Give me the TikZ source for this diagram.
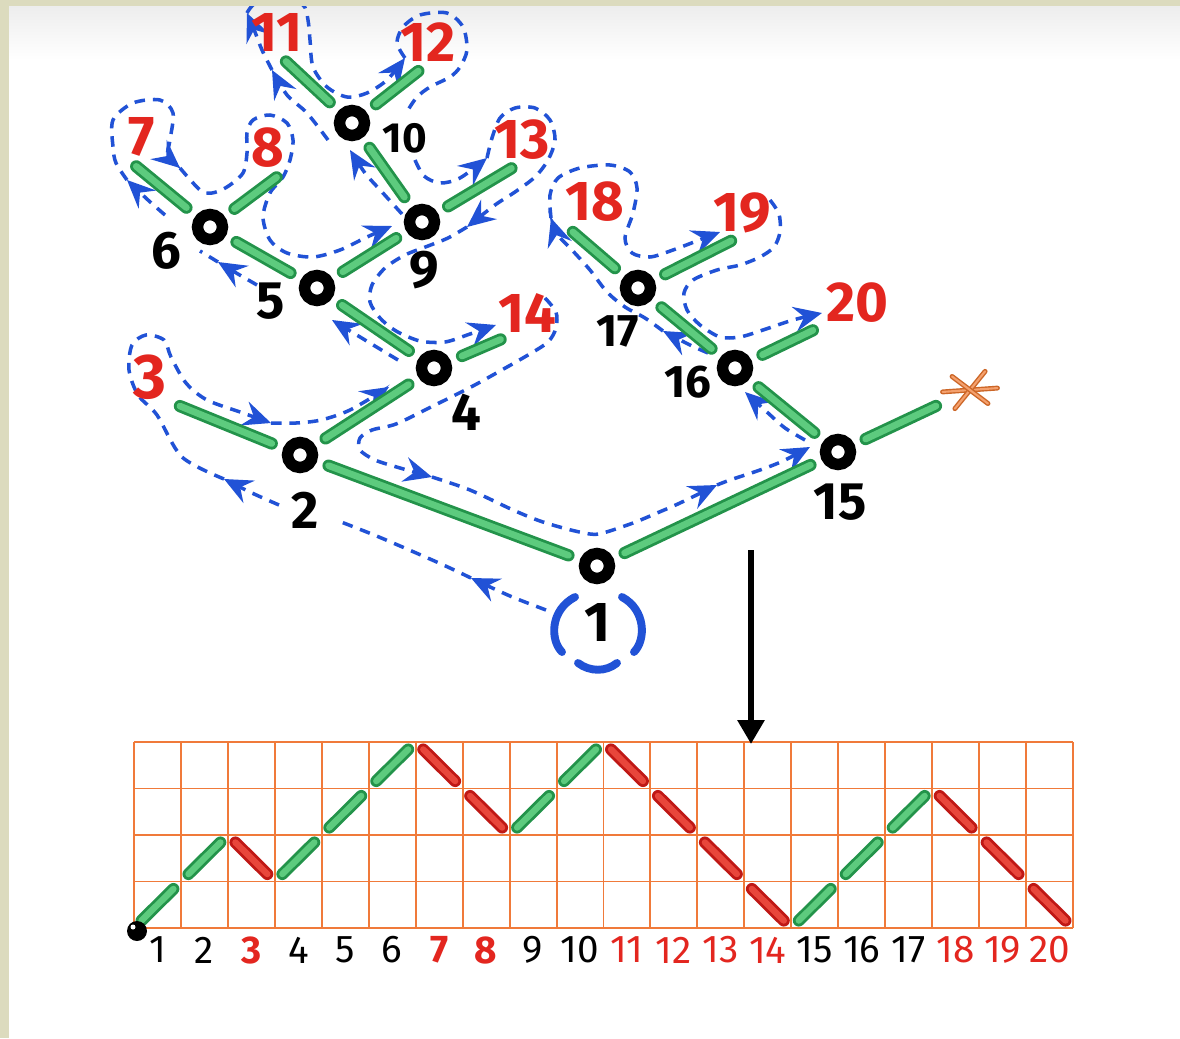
\documentclass[tikz,border=0pt]{standalone}
\usepackage{fontspec}
\setmainfont{Fira Sans}
\usetikzlibrary{arrows.meta}

\definecolor{framebeige}{HTML}{DCDBBE}
\definecolor{tourblue}{HTML}{2152D6}
\definecolor{leafred}{HTML}{E3261F}
\definecolor{gridorange}{HTML}{F07A3A}
\definecolor{greendk}{HTML}{23934A}
\definecolor{greenlt}{HTML}{5DCB7E}
\definecolor{reddk}{HTML}{BF1815}
\definecolor{redlt}{HTML}{E8463B}
\definecolor{starorange}{HTML}{F0782E}

\begin{document}
\begin{tikzpicture}[x=0.02cm, y=-0.02cm,
  vertex/.style={circle, draw=black, line width=6.5pt, minimum size=0.5cm, inner sep=0pt},
  leaf/.style={text=leafred, font=\fontsize{32}{34}\selectfont\bfseries, inner sep=1pt},
  num/.style={text=black, font=\fontsize{30}{32}\selectfont\bfseries, inner sep=1pt},
  branch/.style={draw=greendk, double=greenlt, double distance=3.8pt, line width=1.6pt,
    line cap=round, shorten <=7pt, shorten >=7pt},
  upstick/.style={draw=greendk, double=greenlt, double distance=3.6pt, line width=1.6pt,
    line cap=round, shorten <=6pt, shorten >=6pt},
  downstick/.style={draw=reddk, double=redlt, double distance=3.6pt, line width=1.6pt,
    line cap=round, shorten <=6pt, shorten >=6pt},
  gridline/.style={gridorange, line width=1.1pt},
  tour/.style={tourblue, line width=2pt, dash pattern=on 6pt off 4.5pt},
  tourtip/.style={tour, -{Stealth[length=9mm/1.6, width=5mm, inset=2mm]}},
  paren/.style={tourblue, line width=4.5pt, line cap=round},
  starstroke/.style={draw=starorange!85!black, double=starorange!70, double distance=1.2pt,
    line width=0.8pt, line cap=round},
  pathlab/.style={inner sep=1pt},
]
\useasboundingbox (0,0) rectangle (1180,1038);
\fill[white] (0,0) rectangle (1180,1038);
\shade[top color=black!7, bottom color=white] (0,6) rectangle (1180,60);

% Grid
\foreach \i in {0,...,20}
  \draw[gridline] ({134+46.95*\i},742) -- ({134+46.95*\i},928);
\foreach \j in {0,...,4}
  \draw[gridline] (134,{928-46.5*\j}) -- (1073,{928-46.5*\j});

% Path: up for an inner vertex, down for a leaf
\foreach \i/\a/\b/\s in {1/0/1/upstick, 2/1/2/upstick, 3/2/1/downstick, 4/1/2/upstick,
    5/2/3/upstick, 6/3/4/upstick, 7/4/3/downstick, 8/3/2/downstick, 9/2/3/upstick,
    10/3/4/upstick, 11/4/3/downstick, 12/3/2/downstick, 13/2/1/downstick,
    14/1/0/downstick, 15/0/1/upstick, 16/1/2/upstick, 17/2/3/upstick,
    18/3/2/downstick, 19/2/1/downstick, 20/1/0/downstick}
  \draw[\s] ({134+46.95*(\i-1)},{928-46.5*\a}) -- ({134+46.95*\i},{928-46.5*\b});
\fill (137,931) circle (10);
\fill[white] (133,927) circle (2.5);

% Step numbers
\foreach \i/\c/\w in {1/black/\mdseries, 2/black/\mdseries, 3/leafred/\bfseries,
    4/black/\mdseries, 5/black/\mdseries, 6/black/\mdseries, 7/leafred/\bfseries,
    8/leafred/\bfseries, 9/black/\mdseries, 10/black/\mdseries, 11/leafred/\mdseries,
    12/leafred/\mdseries, 13/leafred/\mdseries, 14/leafred/\mdseries, 15/black/\mdseries,
    16/black/\mdseries, 17/black/\mdseries, 18/leafred/\mdseries, 19/leafred/\mdseries,
    20/leafred/\mdseries}
  \node[pathlab, text=\c, font={\fontsize{22}{24}\selectfont\w}] (s\i) at ({134+46.95*(\i-0.5)},950) {\i};

% Arrow down to the grid
\coordinate (arrtop) at (751,550);
\coordinate (arrbot) at (751,744);
\draw[line width=3.8pt, -{Triangle[width=0.52cm, length=0.48cm]}] (arrtop) -- (arrbot);

% Tour around the tree
\draw[tourtip] plot[smooth] coordinates {(546,610) (510,596) (471,578)};
\draw[tour] plot[smooth] coordinates {(471,578) (439,563) (379,537) (336,520)};
\draw[tourtip] plot[smooth] coordinates {(279,505) (252,493) (224,479)};
\draw[tourtip] plot[smooth] coordinates {(224,479) (182,457) (157,415) (138,395) (129,370)
  (132,345) (146,335) (164,340) (171,357) (186,383) (207,400) (243,413) (271,423)};
\draw[tourtip] plot[smooth] coordinates {(271,423) (296,423) (321,420) (350,410) (389,387)};
\draw[tourtip] plot[smooth] coordinates {(398,360) (365,340) (332,320)};
\draw[tourtip] plot[smooth] coordinates {(257,285) (238,274) (218,262)};
\draw[tour] (218,262) -- (200,251);
\draw[tourtip] plot[smooth] coordinates {(165,215) (148,200) (127,180)};
\draw[tourtip] plot[smooth] coordinates {(127,180) (116,163) (113,147) (113,120) (133,103)
  (160,100) (173,113) (170,140) (168,155) (180,168)};
\draw[tourtip] plot[smooth] coordinates {(180,168) (200,190) (212,193) (227,187) (243,173)
  (247,153) (247,133) (253,120) (270,115) (287,123) (293,140) (290,160) (283,177)
  (270,193) (263,217) (270,240) (287,253) (313,257) (340,250) (367,237) (392,226)};
\draw[tourtip] plot[smooth] coordinates {(402,214) (382,192) (365,173) (350,150)};
\draw[tourtip] plot[smooth] coordinates {(328,140) (307,113) (287,95) (272,70)};
\draw[tourtip] plot[smooth] coordinates {(272,70) (262,50) (255,32) (247,13)};
\draw[tourtip] plot[smooth] coordinates {(247,13) (256,3) (282,0) (303,5) (308,20) (310,40)
  (313,67) (327,87) (347,97) (367,93) (387,80) (405,58)};
\draw[tour] plot[smooth] coordinates {(405,58) (397,43) (403,27) (420,15) (447,13) (463,27)
  (467,50) (460,67) (450,77) (430,87) (417,97) (408,110)};
\draw[tourtip] plot[smooth] coordinates {(415,160) (424,176) (440,183) (460,178) (487,158)};
\draw[tourtip] plot[smooth] coordinates {(487,158) (492,138) (500,118) (515,108) (535,108)
  (550,120) (555,140) (548,160) (535,177) (515,192) (495,205) (467,227)};
\draw[tourtip] plot[smooth] coordinates {(467,227) (448,238) (428,246) (405,255) (385,268)
  (372,285) (370,302) (380,318) (396,331) (420,341) (445,342) (470,334) (496,325)};
\draw[tourtip] plot[smooth] coordinates {(545,298) (556,312) (556,328) (548,342) (528,355)
  (500,371) (471,387) (429,408) (396,424) (372,430) (360,438) (360,450) (375,460)
  (400,468) (432,477)};
\draw[tourtip] plot[smooth] coordinates {(432,477) (470,490) (513,510) (540,521) (567,529)
  (590,534) (603,533) (633,523) (657,513) (680,503) (717,485)};
\draw[tourtip] plot[smooth] coordinates {(717,485) (730,480) (760,470) (783,461) (810,447)};
\draw[tourtip] plot[smooth] coordinates {(805,440) (785,428) (768,413) (745,392)};
\draw[tourtip] plot[smooth] coordinates {(708,353) (690,345) (663,331)};
\draw[tourtip] plot[smooth] coordinates {(663,331) (645,318) (625,307) (607,292) (590,270)
  (572,250) (558,235) (551,218)};
\draw[tourtip] plot[smooth] coordinates {(551,218) (550,195) (558,178) (580,168) (610,165)
  (630,172) (637,188) (633,213) (625,238) (632,253) (650,257) (673,250) (707,237) (720,232)};
\draw[tourtip] plot[smooth] coordinates {(770,200) (779,214) (780,232) (774,247) (760,257)
  (740,265) (717,270) (693,280) (684,293) (687,310) (700,325) (720,337) (740,337)
  (763,330) (793,320) (822,313)};

% Inner vertices
\node[vertex] (n1) at (597,566) {};
\node[vertex] (n2) at (300,455) {};
\node[vertex] (n4) at (434,368) {};
\node[vertex] (n5) at (317,288) {};
\node[vertex] (n6) at (210,227) {};
\node[vertex] (n9) at (422,222) {};
\node[vertex] (n10) at (352,123) {};
\node[vertex] (n15) at (838,452) {};
\node[vertex] (n16) at (735,368) {};
\node[vertex] (n17) at (638,288) {};

% Leaves
\node[leaf, font=\fontsize{36}{38}\selectfont\bfseries] (n3) at (150,377) {3};
\node[leaf] (n7) at (142,137) {7};
\node[leaf] (n8) at (268,148) {8};
\node[leaf] (n11) at (277,32) {11};
\node[leaf] (n12) at (428,42) {12};
\node[leaf] (n13) at (522,140) {13};
\node[leaf] (n14) at (527,313) {14};
\node[leaf] (n18) at (595,202) {18};
\node[leaf] (n19) at (742,213) {19};
\node[leaf] (n20) at (857,303) {20};
\node[circle, minimum size=1cm, inner sep=0pt] (nstar) at (970,390) {};
\foreach \ang/\len in {4/0.55, 51/0.48, -37/0.45}
  \draw[starstroke] ([shift={(\ang:\len cm)}]nstar.center) -- ([shift={(\ang+180:\len cm)}]nstar.center);

% Vertex numbers
\node[num, font=\fontsize{32}{34}\selectfont\bfseries] (t1) at (598,622) {1};
\node[num] (t2) at (305,510) {2};
\node[num] (t4) at (466,412) {4};
\node[num] (t5) at (271,301) {5};
\node[num] (t6) at (166,251) {6};
\node[num] (t9) at (424,270) {9};
\node[num, font=\fontsize{24}{26}\selectfont\bfseries] (t10) at (405,138) {10};
\node[num] (t15) at (840,502) {15};
\node[num, font=\fontsize{26}{28}\selectfont\bfseries] (t16) at (688,382) {16};
\node[num, font=\fontsize{26}{28}\selectfont\bfseries] (t17) at (618,331) {17};

% Root marks
\draw[paren] (575,597) .. controls (550,610) and (550,640) .. (562,652);
\draw[paren] (622,597) .. controls (646,610) and (646,640) .. (634,652);
\draw[paren] (578,663) .. controls (590,672) and (606,672) .. (617,663);

% Branches
\foreach \a/\b in {n1/n2, n1/n15, n2/n3.south east, n2/n4, n4/n5, n4/n14.235,
    n5/n6, n5/n9, n6/n7.south west, n6/n8.south east, n9/n10, n9/n13.south,
    n10/n11.south, n10/n12.south, n15/n16, n15/nstar, n16/n17, n16/n20.south west,
    n17/n18.south west, n17/n19.south}
  \draw[branch] (\a) -- (\b);

% Frame
\fill[framebeige] (0,0) rectangle (9,1038);
\fill[framebeige] (0,0) rectangle (1180,6);
\end{tikzpicture}
\end{document}
